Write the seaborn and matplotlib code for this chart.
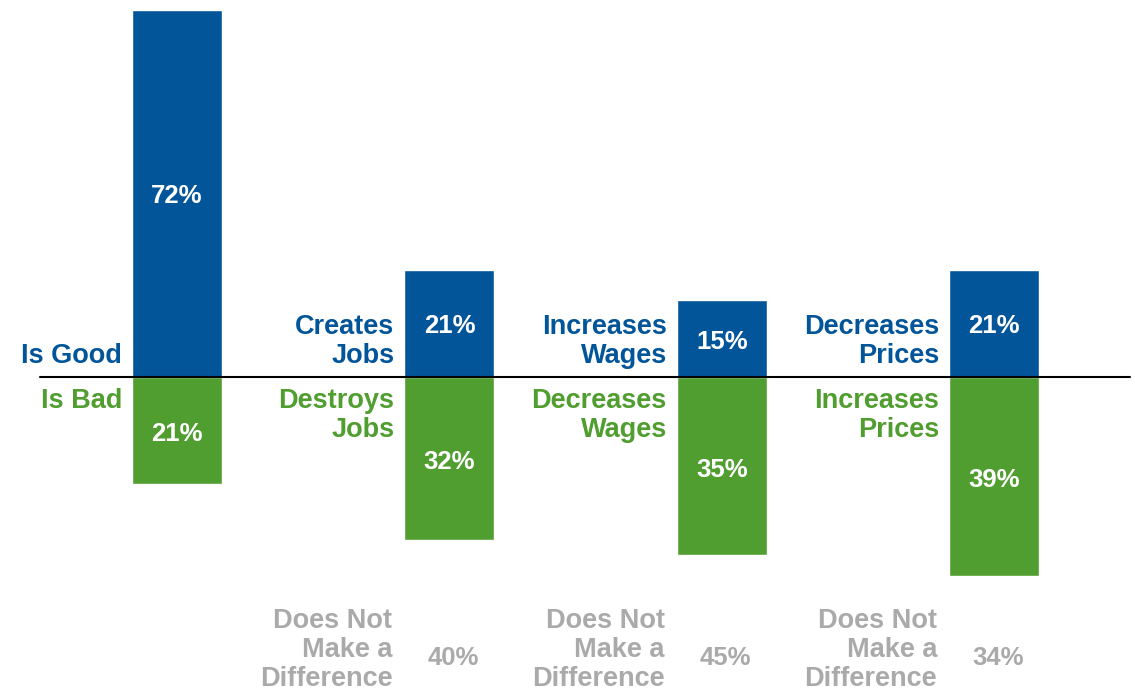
import matplotlib
matplotlib.use("Agg")
import matplotlib.pyplot as plt
import seaborn as sns
import pandas as pd

# Survey results: share saying each effect is good / bad / makes no difference
categories = ["Overall", "Jobs", "Wages", "Prices"]
good_labels = ["Is Good", "Creates\nJobs", "Increases\nWages", "Decreases\nPrices"]
bad_labels = ["Is Bad", "Destroys\nJobs", "Decreases\nWages", "Increases\nPrices"]
good_values = [72, 21, 15, 21]
bad_values = [21, 32, 35, 39]
no_difference_values = [None, 40, 45, 34]
no_difference_label = "Does Not\nMake a\nDifference"

BLUE = "#03559A"
GREEN = "#509E2F"
GRAY = "#AAAAAA"
BAR_WIDTH = 0.33
LABEL_SIZE = 19.5
VALUE_SIZE = 18.5
LINESPACING = 1.16

sns.set_theme(style="white")
plt.rcParams["font.family"] = ["Liberation Sans", "DejaVu Sans"]
plt.rcParams["font.weight"] = "bold"

df = pd.DataFrame({
    "category": categories * 2,
    "value": good_values + [-v for v in bad_values],
    "kind": ["good"] * len(categories) + ["bad"] * len(categories),
})

fig = plt.figure(figsize=(11.35, 6.92), dpi=100)
ax = fig.add_axes([0, 0, 1, 1])
sns.barplot(data=df, x="category", y="value", hue="kind", order=categories,
            palette={"good": BLUE, "bad": GREEN}, dodge=False, width=BAR_WIDTH,
            saturation=1, legend=False, ax=ax)

ax.set_xlim(-0.65, 3.517)
ax.set_ylim(-61.8, 73.9)
ax.set_axis_off()
ax.axhline(0, xmin=0.035, xmax=0.996, color="black", lw=1.5, zorder=5)

PT = 0.72  # points per pixel at 100 dpi
for i, cat in enumerate(categories):
    g, b = good_values[i], bad_values[i]
    ax.annotate(f"{g}%", (i, g / 2), xytext=(0, -3 * PT), textcoords="offset points",
                ha="center", va="center", color="white", fontsize=VALUE_SIZE, fontweight="bold")
    ax.annotate(f"{b}%", (i, -b / 2), xytext=(0, -4 * PT), textcoords="offset points",
                ha="center", va="center", color="white", fontsize=VALUE_SIZE, fontweight="bold")

    left = i - BAR_WIDTH / 2
    ax.annotate(good_labels[i], (left, 0), xytext=(-10 * PT, 8 * PT), textcoords="offset points",
                ha="right", va="bottom", color=BLUE, fontsize=LABEL_SIZE, fontweight="bold",
                linespacing=LINESPACING, multialignment="right")
    ax.annotate(bad_labels[i], (left, 0), xytext=(-10 * PT, -11 * PT), textcoords="offset points",
                ha="right", va="top", color=GREEN, fontsize=LABEL_SIZE, fontweight="bold",
                linespacing=LINESPACING, multialignment="right")

    nd = no_difference_values[i]
    if nd is not None:
        ax.annotate(no_difference_label, (left, -53.2), xytext=(-12 * PT, -2 * PT),
                    textcoords="offset points", ha="right", va="center", color=GRAY,
                    fontsize=LABEL_SIZE, fontweight="bold", linespacing=LINESPACING,
                    multialignment="right")
        ax.annotate(f"{nd}%", (i, -54.9), xytext=(4 * PT, -1 * PT), textcoords="offset points",
                    ha="center", va="center", color=GRAY, fontsize=VALUE_SIZE, fontweight="bold")

fig.savefig("out.png", dpi=100, facecolor="white")
